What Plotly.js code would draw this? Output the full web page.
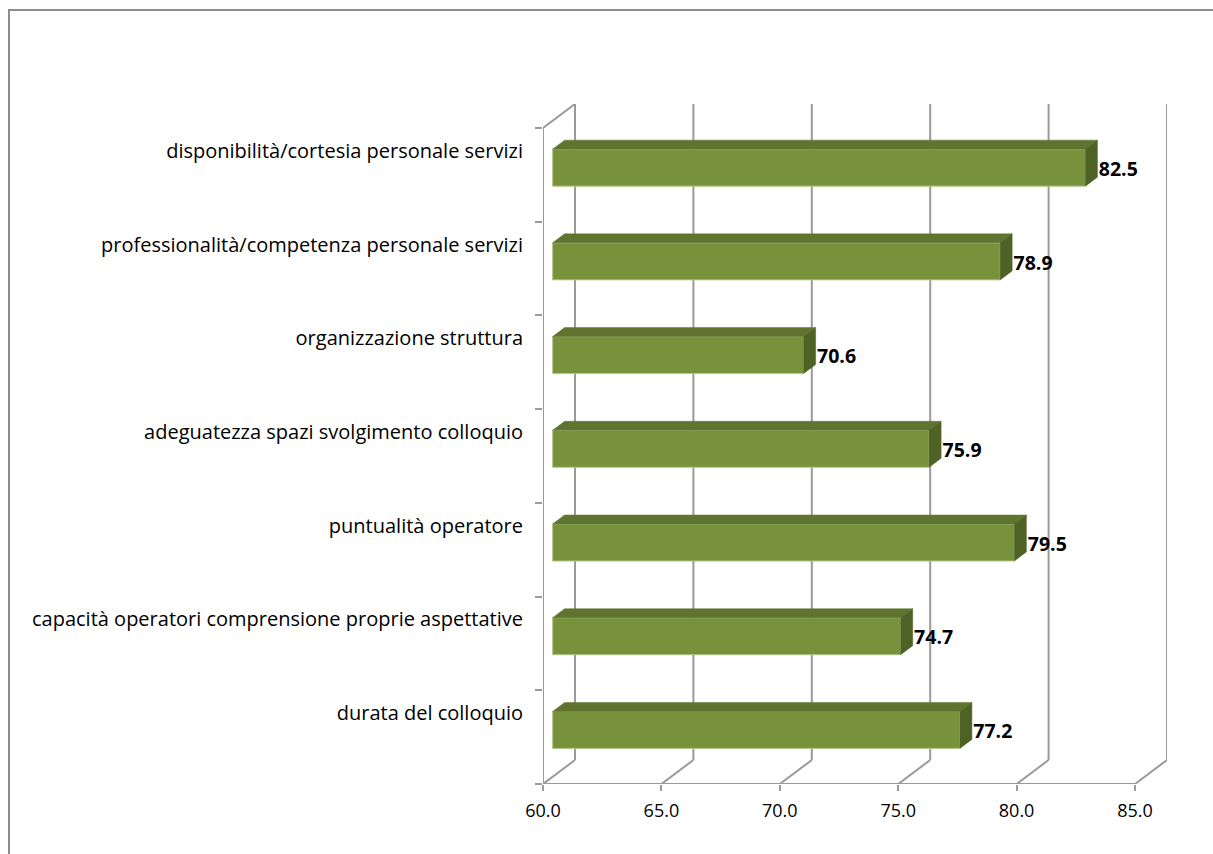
<!DOCTYPE html>
<html>
<head>
<meta charset="utf-8">
<script src="https://cdn.plot.ly/plotly-3.0.1.min.js"></script>
<style>
  html, body { margin: 0; padding: 0; width: 1213px; height: 854px; overflow: hidden; background: #fff; }
  #chart { position: absolute; left: 0; top: 0; width: 1213px; height: 854px; }
  #frame { position: absolute; left: 8px; top: 9px; width: 1400px; height: 1000px; border-left: 2px solid #8c8c8c; border-top: 2px solid #8c8c8c; pointer-events: none; }
</style>
</head>
<body>
<div id="chart"></div>
<div id="frame"></div>
<script>
// ---- data (bottom to top, as drawn) ----
const categories = [
  "durata del colloquio",
  "capacità operatori comprensione proprie aspettative",
  "puntualità operatore",
  "adeguatezza spazi svolgimento colloquio",
  "organizzazione struttura",
  "professionalità/competenza personale servizi",
  "disponibilità/cortesia personale servizi"
];
const values = [77.2, 74.7, 79.5, 75.9, 70.6, 78.9, 82.5];
const xTicks = [60, 65, 70, 75, 80, 85];

// ---- 3D geometry (pseudo perspective) ----
const xMin = 60, xMax = 85;
const n = categories.length;
const plotL = 543, plotR = 1167, plotT = 104, plotB = 784;
const depthPx = 32, depthPy = 24;
const DX = (xMax - xMin) * depthPx / ((plotR - plotL) - depthPx);
const DY = n * depthPy / ((plotB - plotT) - depthPy);
const f0 = 0.3, f1 = 0.675;          // bar depth (front / back planes)
const barW = 0.395;                   // bar thickness in category units
const a0 = f0 * DX, b0 = f0 * DY, a1 = f1 * DX, b1 = f1 * DY;
const labelGap = 0.06;                // gap between bar side and value label

// grid / walls
const gx = [], gy = [];
xTicks.forEach(g => {
  gx.push(g + DX, g + DX, null); gy.push(DY, n + DY, null);   // back wall verticals
  gx.push(g, g + DX, null); gy.push(0, DY, null);             // floor diagonals
});
gx.push(xMin, xMax, null); gy.push(0, 0, null);               // front base
gx.push(xMin, xMin, xMin + DX, null); gy.push(0, n, n + DY, null); // left wall edge

// bar faces
const fx = [], fy = [], tx = [], ty = [], sx = [], sy = [];
values.forEach((v, i) => {
  const yc = i + 0.5;
  const yb = yc - barW / 2, yt = yc + barW / 2;
  fx.push(xMin + a0, v + a0, v + a0, xMin + a0, xMin + a0, null);
  fy.push(yb + b0, yb + b0, yt + b0, yt + b0, yb + b0, null);
  tx.push(xMin + a0, v + a0, v + a1, xMin + a1, xMin + a0, null);
  ty.push(yt + b0, yt + b0, yt + b1, yt + b1, yt + b0, null);
  sx.push(v + a0, v + a1, v + a1, v + a0, v + a0, null);
  sy.push(yb + b0, yb + b1, yt + b1, yt + b0, yb + b0, null);
});

const gridColor = "#9a9a9a";
const fam = "'Open Sans', 'Noto Sans', sans-serif";
const traces = [
  { type: "scatter", mode: "lines", x: gx, y: gy, line: { color: gridColor, width: 2 }, hoverinfo: "skip", showlegend: false },
  { type: "scatter", mode: "lines", x: fx, y: fy, fill: "toself", fillcolor: "#78923c", line: { color: "#b3c98a", width: 1 }, hoverinfo: "skip", showlegend: false },
  { type: "scatter", mode: "lines", x: tx, y: ty, fill: "toself", fillcolor: "#5f752f", line: { color: "#5f752f", width: 0.5 }, hoverinfo: "skip", showlegend: false },
  { type: "scatter", mode: "lines", x: sx, y: sy, fill: "toself", fillcolor: "#4e6226", line: { color: "#4e6226", width: 0.5 }, hoverinfo: "skip", showlegend: false },
  { type: "scatter", mode: "text", x: values.map(v => v + a1 + labelGap), y: values.map((v, i) => i + 0.5 + b0 - 0.035),
    text: values.map(v => v.toFixed(1)), textposition: "middle right",
    textfont: { family: fam, size: 19.5, color: "#000", weight: "bold" },
    cliponaxis: false, hoverinfo: "skip", showlegend: false },
  { type: "scatter", mode: "lines", x: [xMin], y: [0], yaxis: "y2", line: { width: 0 }, hoverinfo: "skip", showlegend: false }
];

const layout = {
  width: 1213, height: 854,
  margin: { l: plotL, r: 1213 - plotR, t: plotT, b: 854 - plotB, pad: 0 },
  paper_bgcolor: "#fff", plot_bgcolor: "rgba(0,0,0,0)",
  font: { family: fam, size: 18, color: "#000" },
  showlegend: false,
  xaxis: {
    range: [xMin, xMax + DX], showgrid: false, zeroline: false, showline: false,
    tickmode: "array", tickvals: xTicks, ticktext: xTicks.map(t => t.toFixed(1)),
    ticks: "outside", ticklen: 6, tickwidth: 2, tickcolor: gridColor,
    ticklabelstandoff: 4, tickfont: { family: fam, size: 18, color: "#000" }, fixedrange: true
  },
  yaxis: {
    range: [0, n + DY], showgrid: false, zeroline: false, showline: false,
    tickmode: "array", tickvals: categories.map((c, i) => i + 0.5 + DY), ticktext: categories,
    ticks: "", ticklabelstandoff: 19, tickfont: { family: fam, size: 20, color: "#000" }, fixedrange: true
  },
  yaxis2: {
    overlaying: "y", side: "left", range: [0, n + DY], showgrid: false, zeroline: false, showline: false,
    tickmode: "array", tickvals: categories.map((c, i) => i).concat([n]), showticklabels: false,
    ticks: "outside", ticklen: 7, tickwidth: 2, tickcolor: gridColor, fixedrange: true
  }
};

Plotly.newPlot("chart", traces, layout, { staticPlot: true, displayModeBar: false });
</script>
</body>
</html>
